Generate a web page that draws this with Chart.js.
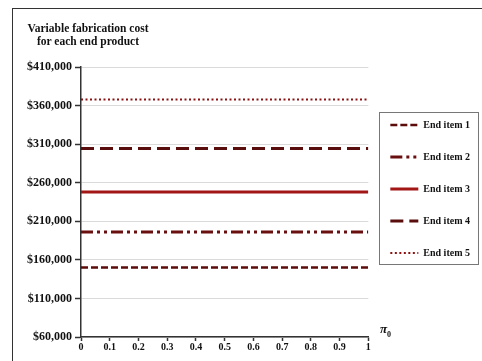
<!DOCTYPE html>
<html>
<head>
<meta charset="utf-8">
<script src="https://cdn.jsdelivr.net/npm/chart.js@4.4.1/dist/chart.umd.min.js"></script>
<style>
  body { margin: 0; background: #fff; }
  #wrap { position: relative; width: 482px; height: 361px; overflow: hidden; }
  #frame { position: absolute; left: 12px; top: 8px; width: 500px; height: 400px;
           border-top: 1.5px solid #333; border-left: 1.5px solid #333; }
  #title { position: absolute; left: 13px; top: 22px; width: 150px; text-align: center; white-space: nowrap;
           font: bold 11.5px 'Liberation Serif', 'Times New Roman', serif; line-height: 13px; color: #111; }
  #pi { position: absolute; left: 380px; top: 321px;
        font: bold italic 13px 'Liberation Serif', 'Times New Roman', serif; color: #111; }
  #pi sub { font-size: 8px; font-style: normal; }
  canvas { position: absolute; left: 0; top: 0; }
</style>
</head>
<body>
<div id="wrap">
  <div id="frame"></div>
  <canvas id="costChart" width="482" height="361"></canvas>
  <div id="title">Variable fabrication cost<br>for each end product</div>
  <div id="pi">π<sub>0</sub></div>
</div>
<script>
const serif = "'Liberation Serif', 'Times New Roman', serif";

// pi0 values on the x axis
const pi0 = [0, 0.1, 0.2, 0.3, 0.4, 0.5, 0.6, 0.7, 0.8, 0.9, 1];
const yTicks = [60000, 110000, 160000, 210000, 260000, 310000, 360000, 410000];

const itemLabels = ['End item 1', 'End item 2', 'End item 3', 'End item 4', 'End item 5'];
const endItem1 = [150000, 150000, 150000, 150000, 150000, 150000, 150000, 150000, 150000, 150000, 150000];
const endItem2 = [196000, 196000, 196000, 196000, 196000, 196000, 196000, 196000, 196000, 196000, 196000];
const endItem3 = [248000, 248000, 248000, 248000, 248000, 248000, 248000, 248000, 248000, 248000, 248000];
const endItem4 = [304500, 304500, 304500, 304500, 304500, 304500, 304500, 304500, 304500, 304500, 304500];
const endItem5 = [368000, 368000, 368000, 368000, 368000, 368000, 368000, 368000, 368000, 368000, 368000];

const seriesList = [endItem1, endItem2, endItem3, endItem4, endItem5];
const colors = ['#5c0b0b', '#6a0f0f', '#a31616', '#5a0d0d', '#8c1010'];
const dashes = [[7, 3], [12, 4, 3, 4, 3, 4], [], [13, 6], [2, 2.5]];
const widths = [2.5, 3, 3, 3, 2];

const datasets = seriesList.map((vals, i) => ({
    label: itemLabels[i],
    data: pi0.map((x, j) => ({ x: x, y: vals[j] })),
    borderColor: colors[i],
    backgroundColor: colors[i],
    borderDash: dashes[i],
    borderWidth: widths[i],
    pointRadius: 0,
    tension: 0,
    fill: false
}));

// Draw a frame round the legend
const legendFrame = {
    id: 'legendFrame',
    afterDraw(chart) {
        const hb = chart.legend.legendHitBoxes;
        if (!hb || !hb.length) return;
        const left = hb[0].left - 11;
        const top = hb[0].top - 8;
        const right = Math.max(...hb.map(h => h.left + h.width)) + 8;
        const last = hb[hb.length - 1];
        const bottom = last.top + last.height + 6;
        const ctx = chart.ctx;
        ctx.save();
        ctx.strokeStyle = '#777';
        ctx.lineWidth = 1;
        ctx.strokeRect(Math.round(left) + 0.5, Math.round(top) + 0.5, Math.round(right - left), Math.round(bottom - top));
        ctx.restore();
    }
};

const ctx = document.getElementById('costChart').getContext('2d');
new Chart(ctx, {
    type: 'line',
    data: { datasets: datasets },
    options: {
        responsive: false,
        animation: false,
        layout: { padding: { left: 0, top: 67, right: 2, bottom: 0 } },
        plugins: {
            tooltip: { enabled: false },
            legend: {
                position: 'right',
                align: 'start',
                title: { display: true, text: '', font: { size: 10 }, padding: { top: 19, bottom: 0 } },
                labels: {
                    usePointStyle: true,
                    pointStyleWidth: 28,
                    padding: 22,
                    color: '#111',
                    font: { family: serif, size: 10, weight: 'bold' },
                    generateLabels: chart => chart.data.datasets.map((ds, i) => ({
                        text: ds.label,
                        fillStyle: ds.borderColor,
                        strokeStyle: ds.borderColor,
                        lineWidth: ds.borderWidth,
                        lineDash: ds.borderDash,
                        pointStyle: 'line',
                        fontColor: '#111',
                        hidden: false,
                        datasetIndex: i
                    }))
                }
            }
        },
        scales: {
            x: {
                type: 'linear',
                min: 0,
                max: 1,
                afterFit: axis => { axis.height = 24; },
                afterBuildTicks: axis => { axis.ticks = pi0.map(v => ({ value: v })); },
                border: { color: '#333', width: 1.5 },
                grid: { drawOnChartArea: false, tickColor: '#333', tickLength: 4, tickWidth: 1.5 },
                ticks: {
                    padding: 0,
                    color: '#111',
                    font: { family: serif, size: 10, weight: 'bold' },
                    callback: v => String(v)
                }
            },
            y: {
                min: 60000,
                max: 410000,
                afterFit: axis => { axis.width = 81; },
                afterBuildTicks: axis => { axis.ticks = yTicks.map(v => ({ value: v })); },
                border: { color: '#333', width: 1.5 },
                grid: { color: '#dadada', lineWidth: 1, tickColor: '#333', tickLength: 6, tickWidth: 1.5 },
                ticks: {
                    padding: 3,
                    color: '#111',
                    font: { family: serif, size: 12, weight: 'bold' },
                    callback: v => '$' + v.toLocaleString('en-US')
                }
            }
        }
    },
    plugins: [legendFrame]
});
</script>
</body>
</html>
